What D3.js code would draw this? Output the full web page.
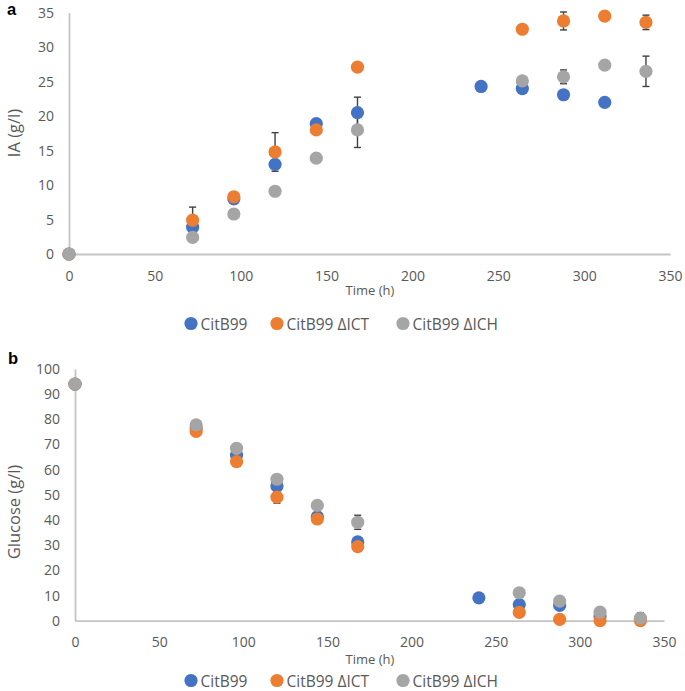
<!DOCTYPE html>
<html><head><meta charset="utf-8">
<script src="https://cdn.jsdelivr.net/npm/d3@7"></script>
<style>body{margin:0;background:#fff}svg{display:block}</style>
</head><body>
<script>
// ---- data ----
const times = [0, 72, 96, 120, 144, 168, 240, 264, 288, 312, 336];
const seriesNames = ["CitB99", "CitB99 \u0394ICT", "CitB99 \u0394ICH"];
const seriesColors = ["#4472C4", "#ED7D31", "#A5A5A5"];

// Panel a: itaconic acid (g/l); null = no point
const iaCitB99 = [0, 3.9, 8.0, 13.0, 18.9, 20.5, 24.3, 24.0, 23.1, 22.0, null];
const iaICT    = [0, 4.9, 8.3, 14.8, 18.0, 27.1, null, 32.6, 33.8, 34.5, 33.6];
const iaICH    = [0, 2.4, 5.8, 9.1, 13.9, 18.0, null, 25.1, 25.7, 27.4, 26.5];
const iaErrCitB99 = [0, 0, 0, 0, 0, 2.25, 0, 0, 0, 0, 0];
const iaErrICT    = [0, 1.9, 0, 2.8, 0, 0, 0, 0, 1.3, 0, 1.05];
const iaErrICH    = [0, 0, 0, 0, 0, 2.55, 0, 0, 1.0, 0, 2.2];

// Panel b: glucose (g/l)
const gluCitB99 = [94, 76.6, 65.8, 53.5, 41.3, 31.3, 9.1, 6.4, 6.1, 1.9, 0.5];
const gluICT    = [94, 75.2, 63.2, 49.1, 40.4, 29.4, null, 3.3, 0.5, 0, 0];
const gluICH    = [94, 77.8, 68.5, 56.2, 45.8, 39.1, null, 11.1, 7.8, 3.4, 1.0];
const gluErrCitB99 = [0, 0, 0, 0, 0, 1.8, 0, 0, 0, 0, 0];
const gluErrICT    = [0, 0, 0, 2.4, 0, 0, 0, 0, 0, 0, 0];
const gluErrICH    = [0, 0, 0, 0, 0, 2.8, 0, 0, 0, 0, 2.2];

const xTicks = [0, 50, 100, 150, 200, 250, 300, 350];
const iaTicks = [0, 5, 10, 15, 20, 25, 30, 35];
const gluTicks = [0, 10, 20, 30, 40, 50, 60, 70, 80, 90, 100];

// ---- drawing ----
const svg = d3.select("body").append("svg").attr("width", 685).attr("height", 691);
const FONT = "'Open Sans', sans-serif";
const TXT = "#595959";
const AX = "#c4c4c4";

function panel(cfg) {
  const x = d3.scaleLinear().domain([0, 350]).range(cfg.xr);
  const y = d3.scaleLinear().domain(cfg.yd).range(cfg.yr);
  const g = svg.append("g");

  const xa = g.append("g").attr("transform", `translate(0,${cfg.yr[0]})`)
    .call(d3.axisBottom(x).tickValues(xTicks).tickSize(0).tickPadding(cfg.xpad));
  const ya = g.append("g").attr("transform", `translate(${cfg.xr[0]},0)`)
    .call(d3.axisLeft(y).tickValues(cfg.yticks).tickSize(0).tickPadding(cfg.ypad));
  [xa, ya].forEach(a => {
    a.select(".domain").attr("stroke", AX).attr("stroke-width", 1.8);
    a.selectAll("text").attr("fill", TXT).style("font-family", FONT).style("font-size", "14px");
  });

  g.append("text").attr("x", cfg.titleX).attr("y", cfg.titleY)
    .attr("text-anchor", "middle").attr("fill", TXT)
    .style("font-family", FONT).style("font-size", "13px").text("Time (h)");
  g.append("text").attr("transform", `translate(${cfg.ylabX},${cfg.ylabY}) rotate(-90)`)
    .attr("text-anchor", "middle").attr("dominant-baseline", "central").attr("fill", TXT)
    .style("font-family", FONT).style("font-size", "16.5px").text(cfg.ylab);
  g.append("text").attr("x", cfg.letterX).attr("y", cfg.letterY)
    .attr("fill", "#000").style("font-family", "'Liberation Sans', Arial, sans-serif")
    .style("font-weight", "bold").style("font-size", "16.5px").text(cfg.letter);

  // error bars first
  cfg.series.forEach((s, si) => {
    const pts = times.map((t, i) => ({t, v: s[i], e: cfg.errs[si][i]})).filter(d => d.v !== null && d.e > 0);
    const eg = g.append("g").attr("stroke", "#404040").attr("stroke-width", 1.4);
    pts.forEach(d => {
      const cx = x(d.t), y1 = y(d.v - d.e), y2 = y(d.v + d.e);
      eg.append("line").attr("x1", cx).attr("x2", cx).attr("y1", y1).attr("y2", y2);
      eg.append("line").attr("x1", cx - 3.5).attr("x2", cx + 3.5).attr("y1", y1).attr("y2", y1);
      eg.append("line").attr("x1", cx - 3.5).attr("x2", cx + 3.5).attr("y1", y2).attr("y2", y2);
    });
  });
  // points
  cfg.series.forEach((s, si) => {
    const pts = times.map((t, i) => ({t, v: s[i]})).filter(d => d.v !== null);
    g.append("g").selectAll("circle").data(pts).join("circle")
      .attr("cx", d => x(d.t)).attr("cy", d => y(d.v)).attr("r", 6.6)
      .attr("fill", seriesColors[si]);
  });

  // legend
  const lg = g.append("g");
  const mx = [191, 277, 403];
  seriesNames.forEach((n, i) => {
    lg.append("circle").attr("cx", mx[i]).attr("cy", cfg.legY).attr("r", 6.6).attr("fill", seriesColors[i]);
    lg.append("text").attr("x", mx[i] + 9.5).attr("y", cfg.legY).attr("dominant-baseline", "central")
      .attr("fill", TXT).style("font-family", FONT).style("font-size", "15.5px").text(n);
  });
}

panel({
  xr: [69, 670], yd: [0, 35], yr: [254, 12.7], yticks: iaTicks, xpad: 17.5, ypad: 15,
  titleX: 370, titleY: 295, ylab: "IA (g/l)", ylabX: 13, ylabY: 133,
  letter: "a", letterX: 7, letterY: 15, legY: 323.5,
  series: [iaCitB99, iaICT, iaICH], errs: [iaErrCitB99, iaErrICT, iaErrICH]
});
panel({
  xr: [75, 664], yd: [0, 100], yr: [620.7, 369], yticks: gluTicks, xpad: 16, ypad: 15,
  titleX: 370, titleY: 664, ylab: "Glucose (g/l)", ylabX: 13, ylabY: 512,
  letter: "b", letterX: 8, letterY: 363.5, legY: 680.5,
  series: [gluCitB99, gluICT, gluICH], errs: [gluErrCitB99, gluErrICT, gluErrICH]
});
</script>
</body></html>
